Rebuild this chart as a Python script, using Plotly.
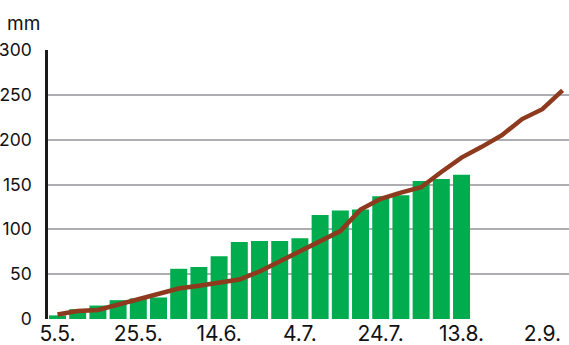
import pandas as pd
import plotly.graph_objects as go

# 5-day periods starting 5 May
bar_dates = ["05-05", "05-10", "05-15", "05-20", "05-25", "05-30", "06-04", "06-09",
             "06-14", "06-19", "06-24", "06-29", "07-04", "07-09", "07-14", "07-19",
             "07-24", "07-29", "08-03", "08-08", "08-13"]
bar_values = [4, 11, 15, 21, 23, 24, 56, 58, 70, 86, 87, 87, 90, 116, 121, 122,
              137, 138, 154, 156, 161]

line_dates = bar_dates + ["08-18", "08-23", "08-28", "09-02", "09-07"]
line_values = [5, 9, 10, 16, 22, 29, 34, 37, 40, 44, 53, 64, 75, 87, 98, 122,
               134, 141, 147, 164, 180, 192, 205, 223, 234, 255]

unit_label = "mm"

YEAR = "2023"
bx = pd.to_datetime([f"{YEAR}-{d}" for d in bar_dates])
lx = pd.to_datetime([f"{YEAR}-{d}" for d in line_dates])

start = pd.Timestamp(f"{YEAR}-05-05")
x0 = start - pd.Timedelta(hours=2.35 * 24)
x1 = start + pd.Timedelta(hours=126.6 * 24)

FONT = "Inter"
TXT = "#111111"

fig = go.Figure()
fig.add_trace(go.Bar(x=bx, y=bar_values, marker=dict(color="#00AC4E", line=dict(width=0)),
                     hoverinfo="skip"))
fig.add_trace(go.Scatter(x=lx, y=line_values, mode="lines",
                         line=dict(color="#8E3A1F", width=4.5), hoverinfo="skip"))

fig.update_layout(
    width=569, height=345,
    margin=dict(l=48, r=0, t=50, b=26),
    paper_bgcolor="white", plot_bgcolor="white",
    showlegend=False, bargap=0.16,
    font=dict(family=FONT, color=TXT),
)
fig.add_annotation(text=unit_label, xref="paper", yref="paper", x=-0.082, y=1.0,
                   yshift=27, xanchor="left", yanchor="middle", showarrow=False,
                   font=dict(size=19, family=FONT, color=TXT))

fig.update_xaxes(
    type="date", range=[x0, x1], automargin=False,
    tick0=start, dtick=20 * 24 * 3600 * 1000, tickformat="%-d.%-m.",
    showgrid=False, ticks="", showline=False, zeroline=False,
    ticklabelstandoff=0,
    tickfont=dict(size=21, family=FONT, color=TXT),
)
fig.update_yaxes(
    range=[0, 300], tickvals=[0, 50, 100, 150, 200, 250, 300], automargin=False,
    showgrid=True, gridcolor="#AEAEB2", gridwidth=2,
    zeroline=False, showline=True, linecolor="#1a1a1a", linewidth=2.5,
    ticks="", ticklabelstandoff=10,
    tickfont=dict(size=17.5, family=FONT, color=TXT),
)

fig.write_html("out.html")
